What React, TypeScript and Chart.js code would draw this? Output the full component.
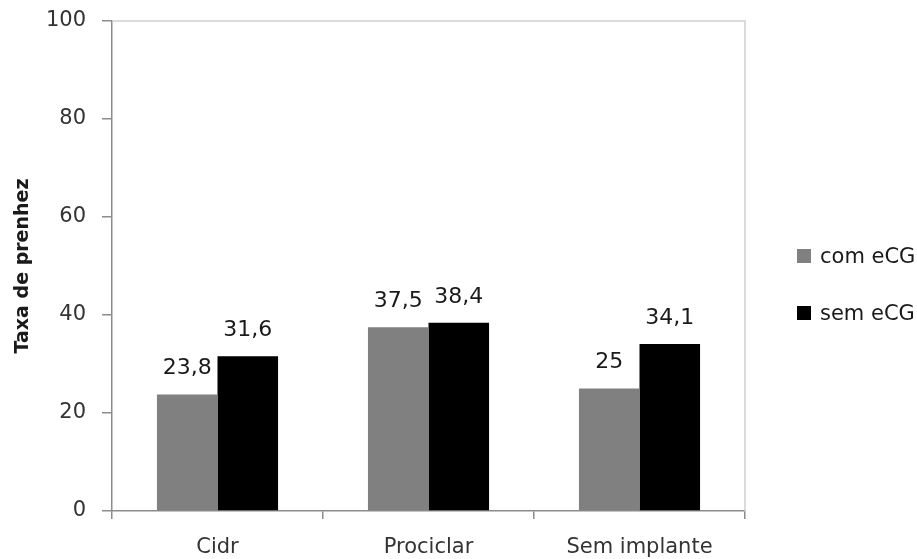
import React, { useEffect, useRef } from "react";
import { Chart, registerables } from "chart.js";

Chart.register(...registerables);

const categories = ["Cidr", "Prociclar", "Sem implante"];
const seriesNames = ["com eCG", "sem eCG"];
const comECG = [23.8, 37.5, 25];
const semECG = [31.6, 38.4, 34.1];
const seriesColors = ["#808080", "#000000"];
const yTicks = [0, 20, 40, 60, 80, 100];
const yTitle = "Taxa de prenhez";

const FONT = "'DejaVu Sans', sans-serif";
const AXIS = "#8c8c8c";

const labelPlugin = {
  id: "valueLabels",
  afterDatasetsDraw(chart: any) {
    const ctx = chart.ctx;
    ctx.save();
    ctx.font = `22px ${FONT}`;
    ctx.fillStyle = "#1a1a1a";
    ctx.textAlign = "center";
    ctx.textBaseline = "middle";
    chart.data.datasets.forEach((ds: any, di: number) => {
      const meta = chart.getDatasetMeta(di);
      meta.data.forEach((bar: any, i: number) => {
        const v = ds.data[i];
        ctx.fillText(String(v).replace(".", ","), bar.x, bar.y - 26);
      });
    });
    ctx.restore();
  },
};

const framePlugin = {
  id: "frame",
  beforeDatasetsDraw(chart: any) {
    const { ctx, chartArea } = chart;
    ctx.save();
    ctx.strokeStyle = "#d0d0d0";
    ctx.lineWidth = 1.5;
    ctx.beginPath();
    ctx.moveTo(chartArea.left, chartArea.top);
    ctx.lineTo(chartArea.right, chartArea.top);
    ctx.lineTo(chartArea.right, chartArea.bottom);
    ctx.stroke();
    ctx.restore();
  },
};

const legendPlugin = {
  id: "customLegend",
  afterDraw(chart: any) {
    const ctx = chart.ctx;
    ctx.save();
    ctx.font = `21px ${FONT}`;
    ctx.textBaseline = "middle";
    ctx.textAlign = "left";
    const ys = [256, 313];
    chart.data.datasets.forEach((ds: any, i: number) => {
      const y = ys[i];
      ctx.fillStyle = ds.backgroundColor;
      ctx.fillRect(797, y - 7, 14, 14);
      ctx.fillStyle = "#1a1a1a";
      ctx.fillText(ds.label, 820, y + 2);
    });
    ctx.restore();
  },
};

export default function App() {
  const ref = useRef<HTMLCanvasElement>(null);
  useEffect(() => {
    if (!ref.current) return;
    const chart = new Chart(ref.current, {
      type: "bar",
      data: {
        labels: categories,
        datasets: [
          { label: seriesNames[0], data: comECG, backgroundColor: seriesColors[0] },
          { label: seriesNames[1], data: semECG, backgroundColor: seriesColors[1] },
        ],
      },
      options: {
        animation: false,
        responsive: false,
        maintainAspectRatio: false,
        layout: { padding: { left: 0, top: 21, right: 172, bottom: 0 } },
        datasets: { bar: { barPercentage: 1, categoryPercentage: 0.574 } },
        plugins: { legend: { display: false }, tooltip: { enabled: false } },
        scales: {
          x: {
            afterFit: (s: any) => {
              s.height = 48;
              s.paddingLeft = 0;
              s.paddingRight = 0;
            },
            grid: { drawOnChartArea: false, drawTicks: true, tickLength: 8, color: AXIS, lineWidth: 1.5 },
            border: { display: true, color: AXIS, width: 1.5 },
            ticks: { font: { family: FONT, size: 21 }, color: "#333333", padding: 16 },
          },
          y: {
            min: 0,
            max: 100,
            afterFit: (s: any) => {
              s.width = 112;
              s.paddingTop = 0;
              s.paddingBottom = 0;
            },
            afterBuildTicks: (s: any) => {
              s.ticks = yTicks.map((v) => ({ value: v }));
            },
            grid: { drawOnChartArea: false, drawTicks: true, tickLength: 10, color: AXIS, lineWidth: 1.5 },
            border: { display: true, color: AXIS, width: 1.5 },
            ticks: { font: { family: FONT, size: 21 }, color: "#333333", padding: 16 },
            title: {
              display: true,
              text: yTitle,
              font: { family: FONT, size: 19, weight: "bold" },
              color: "#1a1a1a",
              padding: { top: 12, bottom: 0 },
            },
          },
        },
      },
      plugins: [framePlugin, labelPlugin, legendPlugin],
    });
    return () => chart.destroy();
  }, []);
  return (
    <div style={{ position: "fixed", left: 0, top: 0, width: 917, height: 559, background: "#fff" }}>
      <canvas ref={ref} width={917} height={559} style={{ display: "block" }} />
    </div>
  );
}
